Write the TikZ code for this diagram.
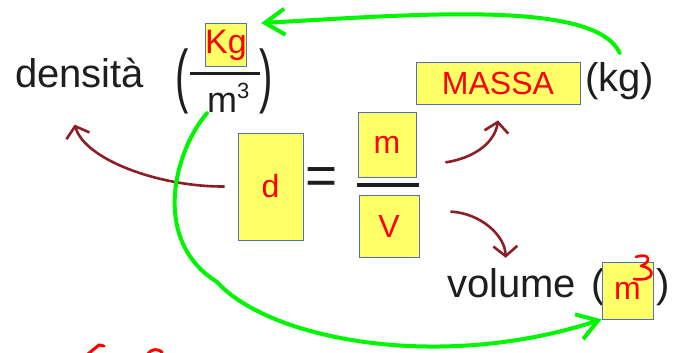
\documentclass[tikz,border=0pt]{standalone}
\usepackage{fontspec}
\setmainfont{Liberation Sans}
\usetikzlibrary{arrows.meta}

\definecolor{boxyellow}{RGB}{255,255,102}
\definecolor{boxblue}{RGB}{80,112,185}
\definecolor{maroon}{RGB}{140,30,38}
\definecolor{handgreen}{RGB}{0,245,0}
\definecolor{ink}{RGB}{30,30,30}

\newcommand*{\wordsize}{\fontsize{40}{48}\selectfont}
\newcommand*{\labelsize}{\fontsize{32}{38}\selectfont}

\begin{document}
\begin{tikzpicture}
[
	x=1pt, y=-1pt,
	word/.style={inner sep=0pt,text=ink,font=\wordsize},
	box/.style={draw=boxblue,fill=boxyellow,line width=0.8pt,inner sep=0pt,text=red,font=\labelsize},
	bar/.style={ink,line width=3.5pt},
	ink arrow/.style={maroon,line width=2.6pt,-{Straight Barb[length=10pt,width=24pt]}},
	green arrow/.style={handgreen,line width=4pt,line cap=round,-{Straight Barb[length=20pt,width=26pt]}},
	scribble/.style={red,line width=2.6pt,line cap=round,line join=round}
]

	\useasboundingbox (0,0) rectangle (675,353);

	% density with its unit
	\node[word,anchor=base west] at (15,88) (dens) {densità};
	\node[word] at (182,81) (lpar) {\scalebox{1}[1.75]{(}};
	\node[box,minimum width=41,minimum height=43,font=\fontsize{34}{40}\selectfont] at (226,45) (kgbox) {Kg};
	\draw[bar,line width=3pt] (190,74) -- (260,74);
	\node[word,anchor=base west,font=\fontsize{36}{42}\selectfont] at (207,113) (den) {m\raisebox{14pt}{\fontsize{22}{24}\selectfont 3}};
	\node[word] at (266,81) (rpar) {\scalebox{1}[1.75]{)}};

	% formula
	\node[box,minimum width=65,minimum height=107] at (270.5,186.5) (dbox) {d};
	\node[word,font=\fontsize{55}{60}\selectfont] at (322,181) (eq) {=};
	\node[box,minimum width=58,minimum height=65] at (387,144.5) (mbox) {m};
	\draw[bar] (357,185) -- (419,185);
	\node[box,minimum width=60,minimum height=62] at (389,226) (vbox) {V};

	% mass
	\node[box,minimum width=164,minimum height=42] at (498,83) (massa) {MASSA};
	\node[word,anchor=base west] at (585,92) (kg) {(kg)};

	% volume
	\node[word,anchor=base west] at (447,297) (volume) {volume};
	\node[word,anchor=base west] at (591,297) (vlpar) {(};
	\node[box,minimum width=51,minimum height=57] at (627.5,290.5) (vmbox) {m};
	\node[word,anchor=base west] at (656,297) (vrpar) {)};
	\draw[scribble] (636,257) .. controls (650,252) and (652,262) .. (641,266)
		.. controls (656,268) and (656,282) .. (634,279);

	% red arrows
	\draw[ink arrow] ([xshift=-13pt]dbox.west) .. controls (160,187) and (85,160) .. ([xshift=-5pt,yshift=-36pt]dens.south);
	\draw[ink arrow] ([xshift=29pt,yshift=15pt]mbox.south east) .. controls (475,158) and (495,142) .. ([yshift=-16pt]massa.south);
	\draw[ink arrow] ([xshift=31pt,yshift=-17pt]vbox.north east) .. controls (480,213) and (505,235) .. ([xshift=-6pt,yshift=10pt]volume.north);

	% green arrows
	\draw[green arrow] (den.south west) .. controls (175,150) and (150,240) .. (217,282)
		.. controls (270,340) and (440,372) .. (vmbox.south west);
	\draw[green arrow] ([yshift=10pt]kg.north) .. controls (595,0) and (420,14) .. ([xshift=14pt]kgbox.north east);

	% marks at the bottom
	\draw[scribble,line width=3pt] (88,354) -- (99,345) -- (104,346);
	\draw[scribble,line width=3pt] (148,354) .. controls (152,348) and (158,349) .. (162,352);

\end{tikzpicture}
\end{document}
